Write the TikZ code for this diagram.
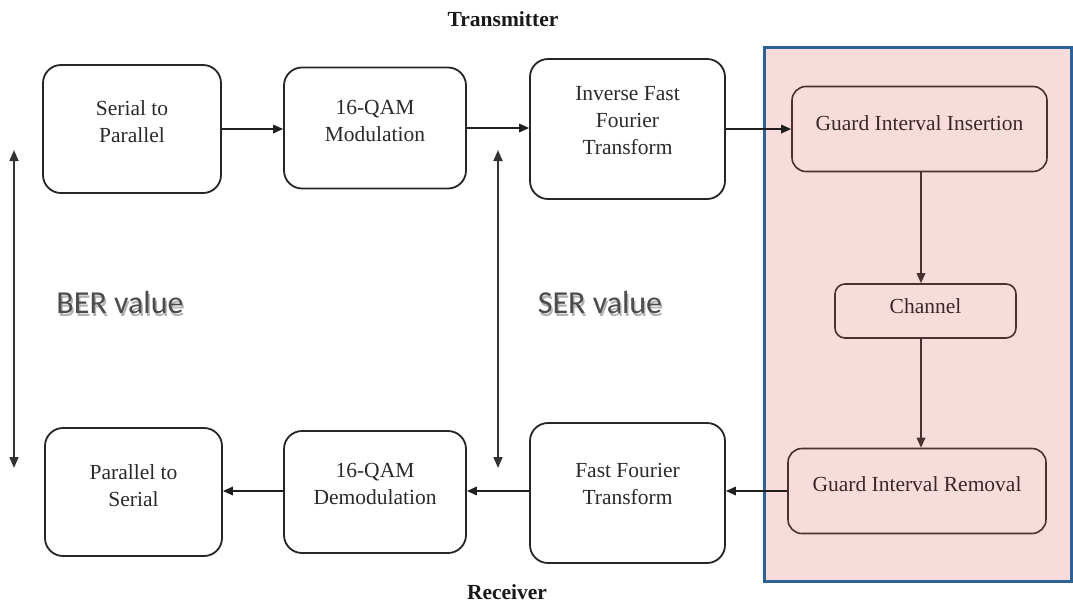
\documentclass[tikz,border=0pt]{standalone}
\usepackage{fontspec}
\setmainfont{Liberation Serif}
\newfontfamily\calibfont{Carlito}
\usetikzlibrary{arrows.meta,calc}
\definecolor{pinkfill}{HTML}{F8DCDB}
\definecolor{blueframe}{HTML}{2E6196}
\definecolor{brownline}{HTML}{4A3030}
\definecolor{boxtext}{HTML}{2A2A2A}
\definecolor{pinktext}{HTML}{3A2828}
\newcommand{\shadowtext}[1]{\makebox[0pt][l]{\hspace{1.5pt}\raisebox{-2.5pt}{\textcolor{black!30}{#1}}}#1}
\begin{document}
\begin{tikzpicture}[x=1pt,y=-1pt,
  wbox/.style={draw=black!85, line width=1.8pt, rounded corners=18pt, fill=white, inner sep=0pt},
  pbox/.style={draw=brownline, line width=1.6pt, rounded corners=14pt, fill=pinkfill, inner sep=0pt},
  btxt/.style={font=\fontsize{21.5}{27}\selectfont, text=boxtext, align=center, inner sep=0pt},
  ptxt/.style={font=\fontsize{21.5}{27}\selectfont, text=pinktext, align=center, inner sep=0pt},
  ttl/.style={font=\fontsize{21.5}{27}\selectfont\bfseries, text=black!90},
  valtxt/.style={font=\calibfont\fontsize{32}{36}\selectfont, text=black!70},
  arr/.style={-{Triangle[length=10pt,width=8.5pt]}, line width=1.7pt, draw=black!88},
  parr/.style={-{Triangle[length=10pt,width=8.5pt]}, line width=1.6pt, draw=brownline},
  darr/.style={{Triangle[length=11pt,width=9pt]}-{Triangle[length=11pt,width=9pt]}, line width=1.7pt, draw=black!80}
]
\useasboundingbox (0,0) rectangle (1073,603);
\fill[white] (0,0) rectangle (1073,603);

% guard interval block
\node[draw=blueframe, line width=3pt, fill=pinkfill, minimum width=307pt, minimum height=534pt, inner sep=0pt] (gblock) at (917.5,314) {};

% titles
\node[ttl] (tx) at (503,19) {Transmitter};
\node[ttl] (rx) at (507,592) {Receiver};

% transmitter row
\node[wbox, minimum width=178pt, minimum height=128pt,
  label={[btxt,yshift=7pt]center:{Serial to\\Parallel}}] (s2p) at (132,129) {};
\node[wbox, minimum width=182pt, minimum height=121pt,
  label={[btxt,yshift=7pt]center:{16-QAM\\Modulation}}] (qam) at (375,128) {};
\node[wbox, minimum width=195pt, minimum height=140pt,
  label={[btxt,yshift=8pt]center:{Inverse Fast\\Fourier\\Transform}}] (ifft) at (627.5,129) {};

% guard block contents
\node[pbox, minimum width=255pt, minimum height=85pt,
  label={[ptxt,yshift=6pt]center:{Guard Interval Insertion}}] (gii) at (919.5,129) {};
\node[pbox, rounded corners=10pt, minimum width=181pt, minimum height=54pt,
  label={[ptxt,yshift=5pt]center:{Channel}}] (ch) at (925.5,311) {};
\node[pbox, minimum width=258pt, minimum height=85pt,
  label={[ptxt,yshift=7pt]center:{Guard Interval Removal}}] (gir) at (917,491) {};

% receiver row
\node[wbox, minimum width=177pt, minimum height=128pt,
  label={[btxt,yshift=6.5pt]center:{Parallel to\\Serial}}] (p2s) at (133.5,492) {};
\node[wbox, minimum width=182pt, minimum height=122pt,
  label={[btxt,yshift=8.5pt]center:{16-QAM\\Demodulation}}] (dem) at (375,492) {};
\node[wbox, minimum width=195pt, minimum height=140pt,
  label={[btxt,yshift=9pt]center:{Fast Fourier\\Transform}}] (fft) at (627.5,493) {};

% BER / SER labels
\node[valtxt] (ber) at (120,304) {\shadowtext{BER value}};
\node[valtxt] (ser) at (600,304) {\shadowtext{SER value}};

% connectors
\draw[arr] (s2p.east) -- (s2p.east -| qam.west);
\draw[arr] (qam.east) -- (qam.east -| ifft.west);
\draw[arr] (gii.west -| ifft.east) -- (gii.west);
\draw[parr] ($(gii.south)+(1.5,0)$) -- ($(gii.south |- ch.north)+(1.5,0)$);
\draw[parr] ($(ch.south)+(-4.5,0)$) -- ($(ch.south |- gir.north)+(-4.5,0)$);
\draw[arr] (gir.west) -- (gir.west -| fft.east);
\draw[arr] (fft.west |- gir.west) -- (gir.west -| dem.east);
\draw[arr] (dem.west |- gir.west) -- (gir.west -| p2s.east);

% double arrows
\coordinate (bertop) at (14,150);
\coordinate (berbot) at (14,468);
\coordinate (sertop) at (498,150);
\coordinate (serbot) at (498,468);
\draw[darr] (bertop) -- (berbot);
\draw[darr] (sertop) -- (serbot);
\end{tikzpicture}
\end{document}
